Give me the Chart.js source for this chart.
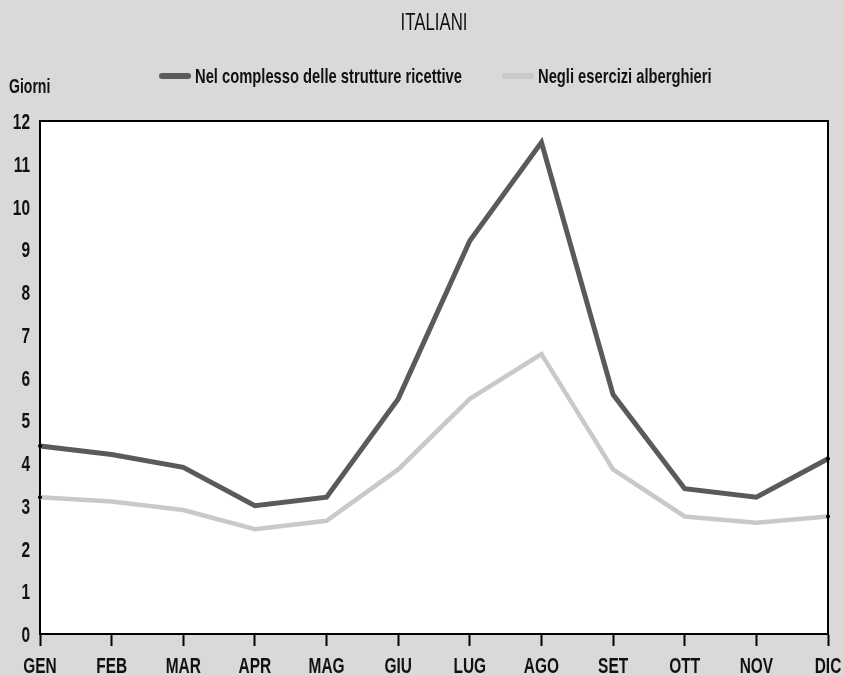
<!DOCTYPE html>
<html>
<head>
<meta charset="utf-8">
<script src="https://cdn.jsdelivr.net/npm/chart.js@4"></script>
<style>
  html, body { margin: 0; padding: 0; background: #d9d9d9; }
  #wrap { width: 844px; height: 676px; position: relative; }
  canvas { display: block; }
</style>
</head>
<body>
<div id="wrap"><canvas id="c" width="844" height="676"></canvas></div>
<script>
const months = ["GEN","FEB","MAR","APR","MAG","GIU","LUG","AGO","SET","OTT","NOV","DIC"];
const complesso = [4.4, 4.2, 3.9, 3.0, 3.2, 5.5, 9.2, 11.5, 5.6, 3.4, 3.2, 4.1];
const alberghieri = [3.2, 3.1, 2.9, 2.45, 2.65, 3.85, 5.5, 6.55, 3.85, 2.75, 2.6, 2.75];
const seriesLabels = ["Nel complesso delle strutture ricettive", "Negli esercizi alberghieri"];
const titleText = "ITALIANI";
const unitText = "Giorni";

const FONT = '"Liberation Sans", Arial, sans-serif';
const DARK = "#5a5a5a";
const LIGHT = "#c9c9c9";

let SX = 0.75;
function txt(ctx, s, x, y, align, size, weight, sx) {
  ctx.save();
  ctx.font = (weight || "bold") + " " + size + "px " + FONT;
  ctx.textBaseline = "alphabetic";
  ctx.fillStyle = "#111";
  const k = sx || SX;
  const w = ctx.measureText(s).width * k;
  let x0 = x;
  if (align === "center") x0 = x - w / 2;
  else if (align === "right") x0 = x - w;
  ctx.translate(x0, y);
  ctx.scale(k, 1);
  ctx.fillText(s, 0, 0);
  ctx.restore();
}

const endDot = (c) => (c.dataIndex === 0 || c.dataIndex === months.length - 1) ? 2 : 0;

const decor = {
  id: "decor",
  beforeDraw(chart) {
    const { ctx, chartArea: a } = chart;
    ctx.save();
    ctx.font = "bold 21px " + FONT;
    SX = 267 / ctx.measureText(seriesLabels[0]).width;
    ctx.fillStyle = "#d9d9d9";
    ctx.fillRect(0, 0, chart.width, chart.height);
    ctx.fillStyle = "#ffffff";
    ctx.fillRect(a.left, a.top, a.right - a.left, a.bottom - a.top);
    ctx.restore();
  },
  afterDraw(chart) {
    const { ctx, chartArea: a } = chart;
    ctx.save();
    ctx.strokeStyle = "#000";
    ctx.lineWidth = 2;
    ctx.beginPath();
    ctx.moveTo(a.left, a.top);
    ctx.lineTo(a.right, a.top);
    ctx.lineTo(a.right, a.bottom);
    ctx.stroke();
    ctx.font = "normal 24px " + FONT;
    const tsx = 67 / ctx.measureText(titleText).width;
    ctx.restore();

    txt(ctx, titleText, 434, 30, "center", 24, "normal", tsx);
    txt(ctx, unitText, 9, 93, "left", 20);

    const items = [
      { x: 160, color: DARK, label: seriesLabels[0] },
      { x: 503, color: LIGHT, label: seriesLabels[1] }
    ];
    items.forEach(it => {
      ctx.save();
      ctx.strokeStyle = it.color;
      ctx.lineWidth = 6;
      ctx.lineCap = "round";
      ctx.beginPath();
      ctx.moveTo(it.x + 2, 76);
      ctx.lineTo(it.x + 28, 76);
      ctx.stroke();
      ctx.restore();
      txt(ctx, it.label, it.x + 35, 83, "left", 21);
    });

    const xs = chart.scales.x, ys = chart.scales.y;
    xs.ticks.forEach((t, i) => {
      txt(ctx, months[i], xs.getPixelForTick(i), 673, "center", 22);
    });
    ys.ticks.forEach((t) => {
      txt(ctx, String(t.value), 30, ys.getPixelForValue(t.value) + 8, "right", 22);
    });
  }
};

new Chart(document.getElementById("c"), {
  type: "line",
  data: {
    labels: months,
    datasets: [
      { label: seriesLabels[0], data: complesso, borderColor: DARK, borderWidth: 5, tension: 0, borderJoinStyle: "miter",
        pointRadius: endDot, pointBackgroundColor: "#000", pointBorderWidth: 0 },
      { label: seriesLabels[1], data: alberghieri, borderColor: LIGHT, borderWidth: 4.5, tension: 0, borderJoinStyle: "miter",
        pointRadius: endDot, pointBackgroundColor: "#000", pointBorderWidth: 0 }
    ]
  },
  options: {
    responsive: false,
    animation: false,
    layout: { padding: { top: 121, right: 16, left: 0, bottom: 0 } },
    plugins: { legend: { display: false }, title: { display: false }, tooltip: { enabled: false } },
    scales: {
      x: {
        offset: false,
        grid: { display: true, drawOnChartArea: false, drawTicks: true, tickLength: 12, tickWidth: 2, tickColor: "#000" },
        border: { display: true, color: "#000", width: 2 },
        ticks: { display: false, autoSkip: false, maxRotation: 0 },
        afterFit(s) { s.height = 42; s.paddingLeft = 0; s.paddingRight = 0; }
      },
      y: {
        min: 0, max: 12,
        grid: { display: false, drawTicks: false },
        border: { display: true, color: "#000", width: 2 },
        ticks: { display: false, stepSize: 1 },
        afterFit(s) { s.width = 40; s.paddingTop = 0; s.paddingBottom = 0; }
      }
    }
  },
  plugins: [decor]
});
</script>
</body>
</html>
